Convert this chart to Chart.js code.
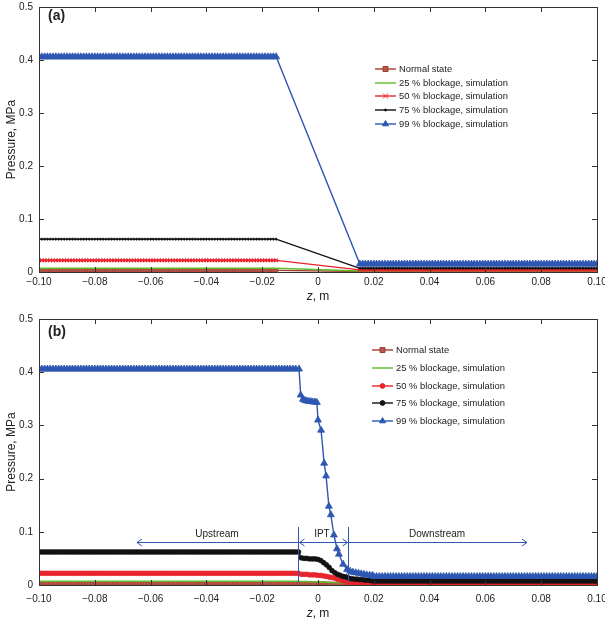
<!DOCTYPE html>
<html>
<head>
<meta charset="utf-8">
<script src="https://cdn.jsdelivr.net/npm/chart.js@4.4.0/dist/chart.umd.min.js"></script>
<style>
html, body { margin: 0; padding: 0; background: #fff; }
#wrapA { position: absolute; left: 0; top: 0; width: 605px; height: 310px; }
#wrapB { position: absolute; left: 0; top: 310px; width: 605px; height: 312px; }
</style>
</head>
<body>
<div id="wrapA"><canvas id="chartA"></canvas></div>
<div id="wrapB"><canvas id="chartB"></canvas></div>
<script>
// Series names and colours (legend order)
var seriesNames = ['Normal state', '25 % blockage, simulation', '50 % blockage, simulation',
                   '75 % blockage, simulation', '99 % blockage, simulation'];
var seriesColors = ['#a23b2e', '#5fbb2c', '#e8232b', '#111111', '#2d57b0'];

// Axis ticks
var xTicks = [-0.10, -0.08, -0.06, -0.04, -0.02, 0, 0.02, 0.04, 0.06, 0.08, 0.10];
var xTickLabels = ['\u22120.10', '\u22120.08', '\u22120.06', '\u22120.04', '\u22120.02', '0',
                   '0.02', '0.04', '0.06', '0.08', '0.10'];
var yTicks = [0, 0.1, 0.2, 0.3, 0.4, 0.5];
var yTickLabels = ['0', '0.1', '0.2', '0.3', '0.4', '0.5'];

// Mesh nodes, z in m
var zUpA = [
  -0.100, -0.099, -0.098, -0.097, -0.096, -0.095, -0.094, -0.093, -0.092, -0.091,
  -0.090, -0.089, -0.088, -0.087, -0.086, -0.085, -0.084, -0.083, -0.082, -0.081,
  -0.080, -0.079, -0.078, -0.077, -0.076, -0.075, -0.074, -0.073, -0.072, -0.071,
  -0.070, -0.069, -0.068, -0.067, -0.066, -0.065, -0.064, -0.063, -0.062, -0.061,
  -0.060, -0.059, -0.058, -0.057, -0.056, -0.055, -0.054, -0.053, -0.052, -0.051,
  -0.050, -0.049, -0.048, -0.047, -0.046, -0.045, -0.044, -0.043, -0.042, -0.041,
  -0.040, -0.039, -0.038, -0.037, -0.036, -0.035, -0.034, -0.033, -0.032, -0.031,
  -0.030, -0.029, -0.028, -0.027, -0.026, -0.025, -0.024, -0.023, -0.022, -0.021,
  -0.020, -0.019, -0.018, -0.017, -0.016, -0.015];
var zDownA = [
  0.015, 0.016, 0.017, 0.018, 0.019,
  0.020, 0.021, 0.022, 0.023, 0.024, 0.025, 0.026, 0.027, 0.028, 0.029,
  0.030, 0.031, 0.032, 0.033, 0.034, 0.035, 0.036, 0.037, 0.038, 0.039,
  0.040, 0.041, 0.042, 0.043, 0.044, 0.045, 0.046, 0.047, 0.048, 0.049,
  0.050, 0.051, 0.052, 0.053, 0.054, 0.055, 0.056, 0.057, 0.058, 0.059,
  0.060, 0.061, 0.062, 0.063, 0.064, 0.065, 0.066, 0.067, 0.068, 0.069,
  0.070, 0.071, 0.072, 0.073, 0.074, 0.075, 0.076, 0.077, 0.078, 0.079,
  0.080, 0.081, 0.082, 0.083, 0.084, 0.085, 0.086, 0.087, 0.088, 0.089,
  0.090, 0.091, 0.092, 0.093, 0.094, 0.095, 0.096, 0.097, 0.098, 0.099,
  0.100];
var zUpB = zUpA.concat([-0.014, -0.013, -0.012, -0.011, -0.010, -0.009, -0.008]);
var zDownB = zDownA.slice(5);

// (a) pressure plateaus, MPa
var upstreamA = [0.003, 0.007, 0.022, 0.062, 0.406];
var downstreamA = [0.001, 0.002, 0.004, 0.007, 0.015];

// (b) pressure plateaus, MPa
var upstreamB = [0.003, 0.007, 0.022, 0.062, 0.406];
var downstreamB = [0.0015, 0.002, 0.0045, 0.0075, 0.016];

// (b) transition region nodes and values
var iptZ = [-0.007, -0.006, -0.005, -0.004, -0.003, -0.002, -0.001, 0.000, 0.001, 0.002,
            0.003, 0.004, 0.005, 0.006, 0.007, 0.008, 0.009, 0.010, 0.011, 0.012,
            0.013, 0.014, 0.015, 0.016, 0.017, 0.018, 0.019];
var normalIpt = [0.003, 0.003, 0.003, 0.003, 0.003, 0.0028, 0.0028, 0.0027, 0.0026, 0.0025,
                 0.0024, 0.0023, 0.0022, 0.0021, 0.002, 0.002, 0.0019, 0.0018, 0.0018, 0.0017,
                 0.0017, 0.0016, 0.0016, 0.0016, 0.0015, 0.0015, 0.0015];
var green25Ipt = [0.007, 0.0065, 0.0065, 0.0065, 0.006, 0.006, 0.006, 0.006, 0.0055, 0.0055,
                  0.005, 0.005, 0.0045, 0.0045, 0.004, 0.004, 0.0035, 0.0035, 0.003, 0.003,
                  0.003, 0.0028, 0.0026, 0.0025, 0.0024, 0.0022, 0.0021];
var red50Ipt = [0.022, 0.020, 0.020, 0.020, 0.019, 0.019, 0.019, 0.018, 0.018, 0.017,
                0.016, 0.015, 0.014, 0.013, 0.011, 0.010, 0.008, 0.007, 0.006, 0.0055,
                0.005, 0.005, 0.005, 0.0045, 0.0045, 0.0045, 0.0045];
var black75Ipt = [0.062, 0.051, 0.050, 0.050, 0.049, 0.049, 0.049, 0.048, 0.046, 0.042,
                  0.038, 0.033, 0.027, 0.023, 0.020, 0.018, 0.016, 0.015, 0.013, 0.012,
                  0.011, 0.011, 0.010, 0.010, 0.009, 0.009, 0.008];
var blueIptZ = [-0.0068, -0.0062, -0.0054, -0.0047, -0.0040, -0.0033, -0.0026, -0.0019, -0.0011, -0.0004,
                0.0000, 0.0011, 0.0022, 0.0029, 0.0039, 0.0046, 0.0057, 0.0068, 0.0075, 0.0090,
                0.0104, 0.0115, 0.0125, 0.0135, 0.0145, 0.0155, 0.0165, 0.0175, 0.0185, 0.0195];
var blue99Ipt = [0.406, 0.357, 0.349, 0.347, 0.346, 0.345, 0.345, 0.344, 0.344, 0.343,
                 0.310, 0.291, 0.229, 0.205, 0.148, 0.132, 0.094, 0.068, 0.058, 0.039,
                 0.029, 0.026, 0.024, 0.023, 0.022, 0.021, 0.020, 0.019, 0.0185, 0.018];
var iptZB = [iptZ, iptZ, iptZ, iptZ, blueIptZ];
var iptPB = [normalIpt, green25Ipt, red50Ipt, black75Ipt, blue99Ipt];

// (b) annotation: zone borders and labels
var zoneBorders = [-0.0073, 0.0106];
var zoneArrowEnds = [-0.0649, 0.0749];
var zoneNames = ['Upstream', 'IPT', 'Downstream'];
var zoneNameZ = [-0.0362, 0.0014, 0.0427];

// Marker styles per panel
var markersA = [
  { style: 'rect', r: 2.5 }, { style: 'circle', r: 0 }, { style: 'crossRot', r: 2.5 },
  { style: 'circle', r: 1 }, { style: 'triangle', r: 4 }];
var markersB = [
  { style: 'rect', r: 2.5 }, { style: 'circle', r: 0 }, { style: 'circle', r: 2.4 },
  { style: 'circle', r: 2.4 }, { style: 'triangle', r: 4 }];
var markerFill = ['#b9584a', '#5fbb2c', '#e8232b', '#111111', '#2d57b0'];

var FONT = "'Liberation Sans', Arial, sans-serif";
Chart.defaults.font.family = FONT;
Chart.defaults.color = '#222';

function pts(zs, val) {
  return zs.map(function (z, i) {
    return { x: z, y: Array.isArray(val) ? val[i] : val };
  });
}

function buildA() {
  return seriesNames.map(function (name, i) {
    return makeDataset(name, i, markersA[i],
      pts(zUpA, upstreamA[i]).concat(pts(zDownA, downstreamA[i])));
  });
}

function buildB() {
  return seriesNames.map(function (name, i) {
    return makeDataset(name, i, markersB[i],
      pts(zUpB, upstreamB[i]).concat(pts(iptZB[i], iptPB[i]), pts(zDownB, downstreamB[i])));
  });
}

function makeDataset(name, i, mk, data) {
  return {
    label: name,
    data: data,
    order: 4 - i,
    borderColor: seriesColors[i],
    borderWidth: 1.4,
    backgroundColor: markerFill[i],
    pointStyle: mk.style,
    pointRadius: mk.r,
    pointBorderWidth: mk.style === 'crossRot' ? 1.2 : 0.8,
    pointBorderColor: seriesColors[i],
    pointBackgroundColor: markerFill[i],
    tension: 0
  };
}

function drawMarker(ctx, style, x, y, r, stroke, fill) {
  if (!r) return;
  ctx.beginPath();
  ctx.strokeStyle = stroke;
  ctx.fillStyle = fill;
  ctx.lineWidth = 1;
  if (style === 'rect') {
    ctx.rect(x - r, y - r, 2 * r, 2 * r);
    ctx.fill(); ctx.stroke();
  } else if (style === 'triangle') {
    ctx.moveTo(x, y - r * 1.15);
    ctx.lineTo(x + r, y + r * 0.6);
    ctx.lineTo(x - r, y + r * 0.6);
    ctx.closePath();
    ctx.fill(); ctx.stroke();
  } else if (style === 'crossRot') {
    ctx.moveTo(x - r, y - r); ctx.lineTo(x + r, y + r);
    ctx.moveTo(x - r, y + r); ctx.lineTo(x + r, y - r);
    ctx.stroke();
  } else {
    ctx.arc(x, y, r, 0, Math.PI * 2);
    ctx.fill(); ctx.stroke();
  }
}

function arrowHead(ctx, x, y, dir) {
  ctx.beginPath();
  ctx.moveTo(x - dir * 5, y - 3.5);
  ctx.lineTo(x, y);
  ctx.lineTo(x - dir * 5, y + 3.5);
  ctx.stroke();
}

var decorPlugin = {
  id: 'decor',
  afterDraw: function (chart, args, o) {
    var ctx = chart.ctx, a = chart.chartArea;
    var xs = chart.scales.x, ys = chart.scales.y;
    ctx.save();

    // frame and inward ticks
    ctx.strokeStyle = '#333';
    ctx.lineWidth = 1;
    ctx.strokeRect(Math.round(a.left) + 0.5, Math.round(a.top) + 0.5,
                   Math.round(a.right - a.left), Math.round(a.bottom - a.top));
    ctx.beginPath();
    xTicks.forEach(function (v) {
      var px = Math.round(xs.getPixelForValue(v)) + 0.5;
      ctx.moveTo(px, a.top); ctx.lineTo(px, a.top + 5);
      ctx.moveTo(px, a.bottom); ctx.lineTo(px, a.bottom - 5);
    });
    yTicks.forEach(function (v) {
      var py = Math.round(ys.getPixelForValue(v)) + 0.5;
      ctx.moveTo(a.left, py); ctx.lineTo(a.left + 5, py);
      ctx.moveTo(a.right, py); ctx.lineTo(a.right - 5, py);
    });
    ctx.stroke();

    // axis titles
    ctx.fillStyle = '#222';
    ctx.textBaseline = 'middle';
    ctx.save();
    ctx.translate(12, (a.top + a.bottom) / 2);
    ctx.rotate(-Math.PI / 2);
    ctx.textAlign = 'center';
    ctx.font = '12px ' + FONT;
    ctx.fillText('Pressure, MPa', 0, 0);
    ctx.restore();

    ctx.font = 'italic 12px ' + FONT;
    var wz = ctx.measureText('z').width;
    ctx.font = '12px ' + FONT;
    var wr = ctx.measureText(', m').width;
    var x0 = xs.getPixelForValue(0) - (wz + wr) / 2;
    ctx.textAlign = 'left';
    ctx.font = 'italic 12px ' + FONT;
    ctx.fillText('z', x0, o.xTitleY);
    ctx.font = '12px ' + FONT;
    ctx.fillText(', m', x0 + wz, o.xTitleY);

    // panel label
    ctx.font = 'bold 14px ' + FONT;
    ctx.fillText(o.panel, a.left + 9, o.panelY);

    // legend
    ctx.font = '9.4px ' + FONT;
    chart.data.datasets.forEach(function (ds, i) {
      var y = o.legendRows[i];
      ctx.strokeStyle = ds.borderColor;
      ctx.lineWidth = 1.4;
      ctx.beginPath();
      ctx.moveTo(o.legendX, y); ctx.lineTo(o.legendX + 21, y);
      ctx.stroke();
      var mk = o.markers[i];
      drawMarker(ctx, mk.style, o.legendX + 10.5, y, Math.min(mk.r, 3), ds.borderColor, ds.pointBackgroundColor);
      ctx.fillStyle = '#222';
      ctx.fillText(ds.label, o.legendX + 24, y);
    });

    // zone annotation
    if (o.zones) {
      var yTop = ys.getPixelForValue(0.109), yBot = ys.getPixelForValue(0.005);
      var yArr = Math.round(ys.getPixelForValue(0.081)) + 0.5;
      var b0 = Math.round(xs.getPixelForValue(zoneBorders[0])) + 0.5;
      var b1 = Math.round(xs.getPixelForValue(zoneBorders[1])) + 0.5;
      var e0 = xs.getPixelForValue(zoneArrowEnds[0]);
      var e1 = xs.getPixelForValue(zoneArrowEnds[1]);
      ctx.strokeStyle = '#2d57b0';
      ctx.lineWidth = 1;
      ctx.beginPath();
      ctx.moveTo(b0, yTop); ctx.lineTo(b0, yBot);
      ctx.moveTo(b1, yTop); ctx.lineTo(b1, yBot);
      ctx.moveTo(e0, yArr); ctx.lineTo(e1, yArr);
      ctx.stroke();
      arrowHead(ctx, e0, yArr, -1);
      arrowHead(ctx, e1, yArr, 1);
      arrowHead(ctx, b0 + 1, yArr, -1);
      arrowHead(ctx, b1 - 1, yArr, 1);
      ctx.fillStyle = '#222';
      ctx.textAlign = 'center';
      ctx.font = '10px ' + FONT;
      var yTxt = ys.getPixelForValue(0.096);
      zoneNames.forEach(function (t, i) {
        ctx.fillText(t, xs.getPixelForValue(zoneNameZ[i]), yTxt);
      });
    }
    ctx.restore();
  }
};

function makeChart(id, datasets, padTop, xAxisH, labelPad, decor) {
  return new Chart(document.getElementById(id), {
    type: 'line',
    data: { datasets: datasets },
    plugins: [decorPlugin],
    options: {
      responsive: true,
      maintainAspectRatio: false,
      animation: false,
      events: [],
      layout: { padding: { top: padTop, right: 8, left: 0, bottom: 0 } },
      plugins: {
        legend: { display: false },
        tooltip: { enabled: false },
        title: { display: false },
        decor: decor
      },
      scales: {
        x: {
          type: 'linear',
          min: -0.1,
          max: 0.1,
          grid: { display: false, drawTicks: false },
          border: { display: false },
          afterBuildTicks: function (s) { s.ticks = xTicks.map(function (v) { return { value: v }; }); },
          afterFit: function (s) { s.height = xAxisH; s.paddingLeft = 0; s.paddingRight = 0; },
          ticks: {
            autoSkip: false,
            maxRotation: 0,
            padding: labelPad,
            font: { size: 10 },
            color: '#222',
            callback: function (v, i) { return xTickLabels[i]; }
          }
        },
        y: {
          type: 'linear',
          min: 0,
          max: 0.5,
          grid: { display: false, drawTicks: false },
          border: { display: false },
          afterBuildTicks: function (s) { s.ticks = yTicks.map(function (v) { return { value: v }; }); },
          afterFit: function (s) { s.width = 39; s.paddingTop = 0; s.paddingBottom = 0; },
          ticks: {
            autoSkip: false,
            padding: 6,
            font: { size: 10 },
            color: '#222',
            callback: function (v, i) { return yTickLabels[i]; }
          }
        }
      }
    }
  });
}

makeChart('chartA', buildA(), 7, 38, 4, {
  panel: '(a)', panelY: 16, xTitleY: 297,
  legendX: 375, legendRows: [69, 83, 96, 110, 124], markers: markersA, zones: false
});
makeChart('chartB', buildB(), 9, 37, 8, {
  panel: '(b)', panelY: 22, xTitleY: 304,
  legendX: 372, legendRows: [40, 58, 76, 93, 111], markers: markersB, zones: true
});
</script>
</body>
</html>
